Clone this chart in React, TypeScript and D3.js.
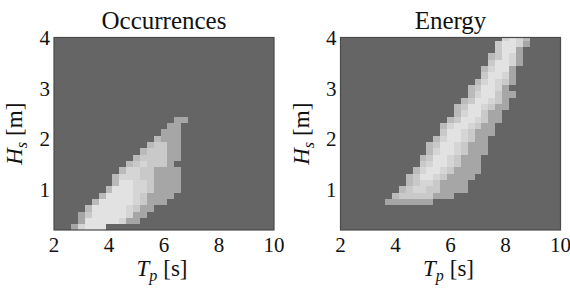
import React from "react";
import * as d3 from "d3";

// Grid: column k has Tp centre 2 + 0.25k, row j has Hs centre 0.25 + 0.125j
// Levels: 0 background, 1 medium grey ... 5 lightest
const occRow = [17, 16, 15, 14, 13, 12, 11, 10, 9, 8, 7, 6, 5, 4, 3, 2, 1, 0];
const occStart = [18, 17, 16, 15, 14, 13, 12, 11, 10, 9, 9, 8, 7, 6, 5, 4, 4, 3];
const occCells = [
  "11", "11", "111", "2111", "23311", "233311", "2333311", "2343331",
  "244331111", "2444331111", "2554431111", "25554431111", "25555431111",
  "25555543111", "2555554311", "1355555411", "155555411", "14555",
];

const enRow = [30, 29, 28, 27, 26, 25, 24, 23, 22, 21, 20, 19, 18, 17, 16, 15, 14, 13, 12, 11, 10, 9, 8, 7, 6, 5, 4];
const enStart = [24, 23, 23, 22, 22, 21, 21, 20, 19, 19, 18, 17, 17, 16, 15, 15, 14, 13, 13, 12, 12, 11, 10, 10, 9, 8, 7];
const enCells = [
  "4542", "35541", "3551", "23541", "35541", "24551", "35541", "245431",
  "235541", "2455311", "2355431", "23554311", "2455311", "23554311",
  "24554311", "35543111", "24554311", "235543111", "245543111", "235543111",
  "345543111", "2455431111", "2355431111", "234431111", "2344331111",
  "233333111", "1111111",
];

const xTicks = [2, 4, 6, 8, 10];
const yTicks = [1, 2, 3, 4];
const titles = ["Occurrences", "Energy"];

const levelColors = ["#656565", "#a6a6a6", "#bababa", "#c9c9c9", "#d5d5d5", "#e2e2e2"];

const FONT = "Liberation Serif";

type Panel = { title: string; rows: number[]; starts: number[]; cells: string[]; x0: number };

function HeatPanel({ p }: { p: Panel }) {
  const W = 220;
  const top = 37.5;
  const bottom = 230;
  const x = d3.scaleLinear().domain([2, 10]).range([p.x0, p.x0 + W]);
  const y = d3.scaleLinear().domain([0.2, 4]).range([bottom, top]);
  const color = d3.scaleOrdinal<number, string>().domain(d3.range(6)).range(levelColors);
  const rects: JSX.Element[] = [];
  p.rows.forEach((j, ri) => {
    const s = p.cells[ri];
    for (let c = 0; c < s.length; c++) {
      const lvl = +s[c];
      if (!lvl) continue;
      const k = p.starts[ri] + c;
      const tp = 2 + 0.25 * k;
      const hs = 0.25 + 0.125 * j;
      const xa = Math.max(x(tp - 0.125), p.x0);
      const xb = Math.min(x(tp + 0.125), p.x0 + W);
      const ya = Math.max(y(hs + 0.0625), top);
      const yb = Math.min(y(hs - 0.0625), bottom);
      rects.push(
        <rect key={`${j}-${k}`} x={xa} y={ya} width={xb - xa} height={yb - ya} fill={color(lvl)} />
      );
    }
  });
  const cx = p.x0 + W / 2;
  const txt = { fontFamily: FONT, fill: "#111" };
  return (
    <g>
      <rect x={p.x0} y={top} width={W} height={bottom - top} fill={levelColors[0]} />
      <g shapeRendering="crispEdges">{rects}</g>
      <rect x={p.x0} y={top} width={W} height={bottom - top} fill="none" stroke="#4a4a4a" strokeWidth={1.2} />
      <text x={cx} y={29} textAnchor="middle" fontSize={25} style={txt}>
        {p.title}
      </text>
      {xTicks.map((t) => (
        <text key={t} x={x(t)} y={252} textAnchor="middle" fontSize={21} style={txt}>
          {t}
        </text>
      ))}
      {yTicks.map((t) => (
        <text key={t} x={p.x0 - 4} y={y(t) + 7.5} textAnchor="end" fontSize={21} style={txt}>
          {t}
        </text>
      ))}
      <text x={cx - 2} y={276} textAnchor="middle" fontSize={23} style={txt}>
        <tspan fontStyle="italic">T</tspan>
        <tspan fontStyle="italic" fontSize={16} dy={5}>p</tspan>
        <tspan dy={-5} dx={6}>[s]</tspan>
      </text>
      <text
        transform={`translate(${p.x0 - 32},${(top + bottom) / 2}) rotate(-90)`}
        textAnchor="middle"
        fontSize={23}
        style={txt}
      >
        <tspan fontStyle="italic">H</tspan>
        <tspan fontStyle="italic" fontSize={16} dy={5}>s</tspan>
        <tspan dy={-5} dx={6}>[m]</tspan>
      </text>
    </g>
  );
}

export default function App() {
  const panels: Panel[] = [
    { title: titles[0], rows: occRow, starts: occStart, cells: occCells, x0: 54 },
    { title: titles[1], rows: enRow, starts: enStart, cells: enCells, x0: 340.5 },
  ];
  return (
    <svg
      width={570}
      height={290}
      style={{ position: "absolute", left: 0, top: 0, background: "#fff" }}
    >
      {panels.map((p) => (
        <HeatPanel key={p.title} p={p} />
      ))}
    </svg>
  );
}
